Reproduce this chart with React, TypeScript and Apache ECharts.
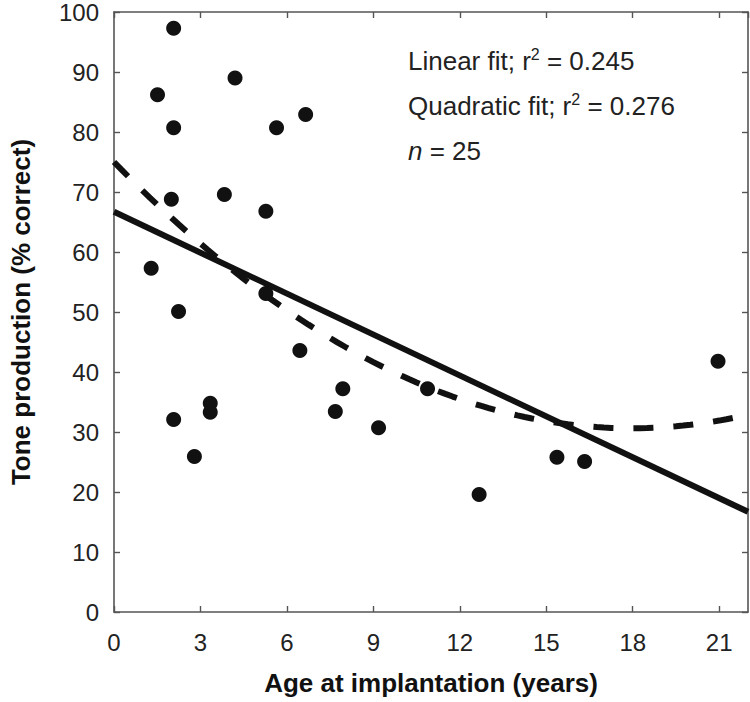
import React, { useEffect, useRef } from "react";
import * as echarts from "echarts";

// Scatter data: age at implantation (years), tone production (% correct)
const ageYears = [2.07, 4.2, 1.51, 2.07, 5.64, 6.65, 1.99, 3.83, 5.27, 1.29, 2.24, 5.27, 6.45, 7.94, 7.68, 9.18, 10.88, 3.34, 3.34, 2.07, 2.79, 20.96, 15.37, 16.33, 12.67];
const toneCorrect = [97.3, 89.0, 86.2, 80.7, 80.7, 82.9, 68.8, 69.6, 66.8, 57.3, 50.1, 53.1, 43.6, 37.2, 33.4, 30.7, 37.2, 34.8, 33.3, 32.1, 25.9, 41.8, 25.8, 25.1, 19.6];

// Fit coefficients: y = c0 + c1*x (+ c2*x^2)
const linearFitCoef = [66.7, -2.273];
const quadraticFitCoef = [75.0, -4.946, 0.1378];

const xTicks = [0, 3, 6, 9, 12, 15, 18, 21];
const yTicks = [0, 10, 20, 30, 40, 50, 60, 70, 80, 90, 100];

const annotations = ["Linear fit; r{s|2} = 0.245", "Quadratic fit; r{s|2} = 0.276", "{i|n} = 25"];

const FONT = "'Liberation Sans', Arial, Helvetica, sans-serif";

export default function App() {
  const ref = useRef<HTMLDivElement>(null);
  useEffect(() => {
    if (!ref.current) return;
    const chart = echarts.init(ref.current, undefined, { renderer: "svg" });
    const xMin = 0;
    const xMax = 22;
    const linePts = [xMin, xMax].map((x) => [x, linearFitCoef[0] + linearFitCoef[1] * x]);
    const quadPts: number[][] = [];
    for (let i = 0; i <= 88; i++) {
      const x = xMin + (i * (xMax - xMin)) / 88;
      quadPts.push([x, quadraticFitCoef[0] + quadraticFitCoef[1] * x + quadraticFitCoef[2] * x * x]);
    }
    const axisLine = { show: true, onZero: false, lineStyle: { color: "#555", width: 1.6 } };
    const tick = { show: true, inside: true, length: 6, lineStyle: { color: "#555", width: 1.4 } };
    chart.setOption({
      animation: false,
      backgroundColor: "#fff",
      grid: { left: 108, right: 2, top: 12, bottom: 90, containLabel: false },
      xAxis: [
        {
          type: "value",
          min: xMin,
          max: xMax,
          interval: 3,
          position: "bottom",
          axisLine,
          axisTick: tick,
          splitLine: { show: false },
          axisLabel: {
            fontSize: 24,
            fontFamily: FONT,
            color: "#222",
            margin: 18,
            showMaxLabel: false,
            formatter: (v: number) => (xTicks.indexOf(v) >= 0 ? String(v) : ""),
          },
          name: "Age at implantation (years)",
          nameLocation: "middle",
          nameGap: 58,
          nameTextStyle: { fontSize: 26, fontWeight: "bold", fontFamily: FONT, color: "#111" },
        },
        {
          type: "value",
          min: xMin,
          max: xMax,
          interval: 3,
          position: "top",
          axisLine,
          axisTick: tick,
          splitLine: { show: false },
          axisLabel: { show: false },
        },
      ],
      yAxis: [
        {
          type: "value",
          min: 0,
          max: 100,
          interval: 10,
          position: "left",
          axisLine,
          axisTick: tick,
          splitLine: { show: false },
          axisLabel: {
            fontSize: 24,
            fontFamily: FONT,
            color: "#222",
            margin: 15,
            formatter: (v: number) => (yTicks.indexOf(v) >= 0 ? String(v) : ""),
          },
          name: "Tone production (% correct)",
          nameLocation: "middle",
          nameGap: 80,
          nameTextStyle: { fontSize: 26, fontWeight: "bold", fontFamily: FONT, color: "#111" },
        },
        {
          type: "value",
          min: 0,
          max: 100,
          interval: 10,
          position: "right",
          axisLine,
          axisTick: tick,
          splitLine: { show: false },
          axisLabel: { show: false },
        },
      ],
      series: [
        {
          type: "line",
          data: linePts,
          showSymbol: false,
          symbol: "none",
          lineStyle: { color: "#111", width: 6, type: "solid" },
          z: 2,
        },
        {
          type: "line",
          data: quadPts,
          showSymbol: false,
          symbol: "none",
          smooth: false,
          lineStyle: { color: "#111", width: 6, type: [20, 20], cap: "butt" },
          z: 2,
        },
        {
          type: "scatter",
          data: ageYears.map((x, i) => [x, toneCorrect[i]]),
          symbol: "circle",
          symbolSize: 15,
          itemStyle: { color: "#111", opacity: 1 },
          z: 3,
        },
      ],
      graphic: annotations.map((t, i) => ({
        type: "text",
        left: 408,
        top: 46 + i * 45,
        style: {
          text: t,
          fontSize: 26,
          fontFamily: FONT,
          fill: "#222",
          lineHeight: 30,
          rich: {
            i: { fontSize: 26, fontStyle: "italic", fontFamily: FONT, fill: "#222", lineHeight: 30 },
            s: { fontSize: 16, fontFamily: FONT, fill: "#222", verticalAlign: "top", lineHeight: 16 },
          },
        },
      })),
    });
    return () => chart.dispose();
  }, []);
  return <div ref={ref} style={{ position: "fixed", left: 0, top: 0, width: 750, height: 702 }} />;
}
